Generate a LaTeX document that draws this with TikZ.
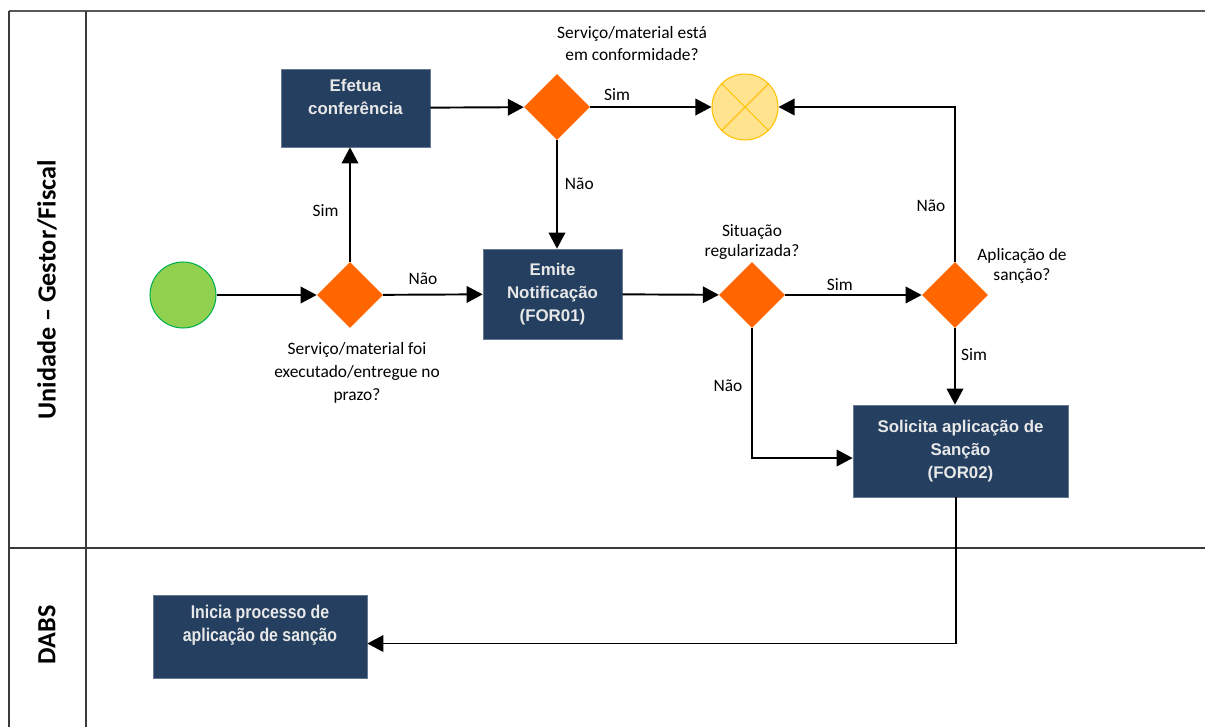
\documentclass[tikz,border=0pt]{standalone}
\usepackage{fontspec}
\setmainfont{Carlito}
\newfontfamily\boxfont{Liberation Sans}
\newfontfamily\narrowboxfont{Liberation Sans}[FakeStretch=0.86]
\usetikzlibrary{shapes.geometric,arrows.meta}
\definecolor{taskblue}{HTML}{243F60}
\definecolor{gwor}{HTML}{FF6600}
\definecolor{startfill}{HTML}{92D050}
\definecolor{startline}{HTML}{00B050}
\definecolor{endfill}{HTML}{FFE38F}
\definecolor{endline}{HTML}{FFC000}
\definecolor{laneline}{HTML}{3A3A3A}
\definecolor{toptxt}{HTML}{E8E8E8}
\tikzset{
  task/.style={rectangle, fill=taskblue, draw=taskblue!70!white, line width=0.4pt, inner sep=0pt,
    text=toptxt, align=center, font=\boxfont\bfseries\fontsize{9.6}{13}\selectfont},
  gw/.style={diamond, aspect=1, fill=gwor, draw=none, inner sep=0pt, minimum width=1.32cm, minimum height=1.32cm},
  startev/.style={circle, fill=startfill, draw=startline, line width=0.6pt, minimum size=1.32cm, inner sep=0pt},
  endev/.style={circle, fill=endfill, draw=endline, line width=0.6pt, minimum size=1.32cm, inner sep=0pt},
  lbl/.style={align=center, font=\fontsize{9.9}{13}\selectfont, inner sep=0pt},
  elbl/.style={font=\fontsize{9.9}{12}\selectfont, inner sep=0pt},
  flow/.style={line width=1.1pt, -{Triangle[length=3.2mm, width=3.3mm]}},
  lane/.style={draw=laneline, line width=0.9pt},
  lanetitle/.style={rotate=90, font=\bfseries\fontsize{14.9}{16}\selectfont, inner sep=0pt}
}
\begin{document}
\begin{tikzpicture}[x=0.02cm, y=-0.02cm]
\useasboundingbox (0,0) rectangle (1205,727);
% lanes
\draw[draw=gray!70!black, line width=1.2pt] (9,11) -- (1205,11);
\draw[lane] (9,11) -- (9,727);
\draw[lane] (86,11) -- (86,727);
\draw[lane] (9,548) -- (1205,548);
\node[lanetitle] (l1) at (47,290) {Unidade – Gestor/Fiscal};
\node[lanetitle] (l2) at (47,635) {DABS};

% nodes
\node[startev] (start) at (183,295) {};
\node[gw] (g1) at (350,295) {};
\node[task, minimum width=2.98cm, minimum height=1.56cm] (efetua) at (355.5,108) {Efetua\\conferência\\~};
\node[gw] (g2) at (557,107) {};
\node[endev] (end) at (745,107) {};
\draw[endline, line width=0.6pt] (end.45) -- (end.225) (end.135) -- (end.315);
\node[task, minimum width=2.78cm, minimum height=1.8cm] (emite) at (552.5,294) {Emite\\Notificação\\(FOR01)};
\node[gw] (g3) at (752,295) {};
\node[gw] (g4) at (955,295) {};
\node[task, minimum width=4.3cm, minimum height=1.84cm] (sol) at (960.5,451) {Solicita aplicação de\\Sanção\\(FOR02)};
\node[task, minimum width=4.28cm, minimum height=1.66cm, font=\narrowboxfont\bfseries\fontsize{10.5}{13}\selectfont] (inicia) at (260,636.5) {Inicia processo de\\aplicação de sanção\\[2pt]~};

% gateway labels
\node[lbl] (t2) at (632,43.5) {Serviço/material está\\em conformidade?};
\node[lbl] (t1) at (357,373) {Serviço/material foi\\executado/entregue no\\prazo?};
\node[lbl, font=\fontsize{9.9}{11.5}\selectfont] (t3) at (752,242) {Situação\\regularizada?};
\node[lbl, font=\fontsize{9.9}{11}\selectfont] (t4) at (1022,266) {Aplicação de\\sanção?};

% flows
\draw[flow] (start) -- (g1);
\draw[flow] (g1) -- node[elbl, pos=0.4, above=5pt] (n1) {Não} (emite);
\draw[flow] (g1.north) -- node[elbl, pos=0.45, left=6pt] (s1) {Sim} (g1.north |- efetua.south);
\draw[flow] (efetua) -- (g2);
\draw[flow] (g2) -- node[elbl, pos=0.22, above=3pt] (s2) {Sim} (end);
\draw[flow] (g2.south) -- node[elbl, pos=0.4, right=4pt] (n2) {Não} (g2.south |- emite.north);
\draw[flow] (emite) -- (g3);
\draw[flow] (g3) -- node[elbl, pos=0.4, above=2pt] (s3) {Sim} (g4);
\draw[flow] (g3.south) |- node[elbl, pos=0.22, left=5pt] (n3) {Não} ([yshift=-4]sol.west);
\draw[flow] (g4.north) |- node[elbl, pos=0.18, left=5pt] (n4) {Não} (end.east);
\draw[flow] (g4.south) -- node[elbl, pos=0.35, right=3pt] (s4) {Sim} (g4.south |- sol.north);
\draw[flow] ([xshift=-2.5]sol.south) |- ([yshift=-4]inicia.east);
\end{tikzpicture}
\end{document}
